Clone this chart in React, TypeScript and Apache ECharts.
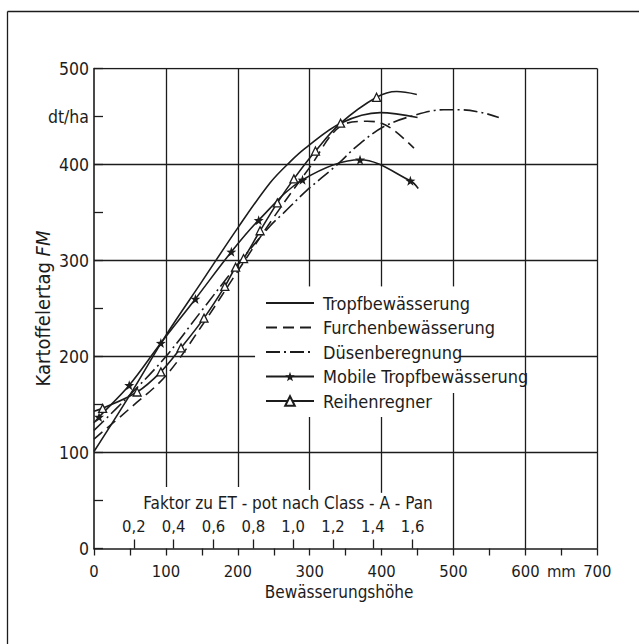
import React, { useEffect, useRef } from "react";
import * as echarts from "echarts";

const FONT = "'DejaVu Sans Condensed', 'Liberation Sans Narrow', 'Liberation Sans', sans-serif";
const INK = "#1c1c1c";

// Axis ranges (mm of irrigation, dt/ha yield)
const X_MAX = 700;
const Y_MAX = 500;
const MM_PER_FACTOR = 277;
const factorTicks = [0.2, 0.4, 0.6, 0.8, 1.0, 1.2, 1.4, 1.6];

// Series names
const seriesNames = [
  "Tropfbewässerung",
  "Furchenbewässerung",
  "Düsenberegnung",
  "Mobile Tropfbewässerung",
  "Reihenregner",
];

// Tropfbewässerung (solid)
const tropfX = [0, 50, 100, 150, 200, 245, 273, 294, 343, 398, 450];
const tropfY = [101, 160, 222, 278, 334, 381, 403, 417, 443, 454, 449];

// Furchenbewässerung (dashed)
const furchenX = [0, 50, 100, 150, 200, 250, 300, 343, 380, 400, 420, 445];
const furchenY = [114, 146, 180, 232, 289, 345, 397, 440, 445, 443, 434, 417];

// Düsenberegnung (dash-dot)
const duesenX = [0, 50, 100, 150, 200, 245, 263, 296, 337, 367, 402, 440, 486, 510, 540, 563];
const duesenY = [123, 160, 200, 248, 296, 336, 349, 373, 399, 420, 439, 450, 457, 457, 454, 449];

// Mobile Tropfbewässerung (stars)
const mobilX = [0, 7, 49, 93, 141, 191, 229, 290, 370, 440, 451];
const mobilY = [131, 137, 170, 214, 260, 309, 342, 384, 405, 383, 375];
const mobilMarked = [0, 1, 1, 1, 1, 1, 1, 1, 1, 1, 0];

// Reihenregner (triangles)
const reihenX = [0, 12, 60, 93, 121, 153, 182, 197, 208, 231, 255, 278, 308, 343, 393, 421, 449];
const reihenY = [143, 146, 163, 184, 209, 240, 273, 293, 302, 331, 360, 385, 414, 443, 470, 476, 473];
const reihenMarked = [0, 1, 1, 1, 1, 1, 1, 1, 1, 1, 1, 1, 1, 1, 1, 0, 0];

// Grid line segments (data units), interrupted where texts sit
const gridSegments = [
  [[100, 500], [100, 64]],
  [[200, 500], [200, 64]],
  [[300, 500], [300, 273]],
  [[300, 137], [300, 61]],
  [[400, 500], [400, 273]],
  [[400, 137], [400, 58]],
  [[500, 500], [500, 273]],
  [[500, 162], [500, 0]],
  [[600, 500], [600, 0]],
  [[700, 500], [700, 0]],
  [[0, 500], [700, 500]],
  [[0, 400], [700, 400]],
  [[0, 300], [700, 300]],
  [[0, 200], [224, 200]],
  [[508, 200], [700, 200]],
  [[0, 100], [700, 100]],
];

const STAR =
  "path://M0,-10 L2.35,-3.24 L9.51,-3.09 L3.8,1.24 L5.88,8.09 L0,4 L-5.88,8.09 L-3.8,1.24 L-9.51,-3.09 L-2.35,-3.24 Z";

function pts(xs: number[], ys: number[], marked?: number[]) {
  return xs.map((x, i) =>
    marked && !marked[i] ? { value: [x, ys[i]], symbol: "none" } : [x, ys[i]]
  );
}

export default function App() {
  const ref = useRef<HTMLDivElement>(null);
  useEffect(() => {
    const chart = echarts.init(ref.current!, null, { renderer: "svg" });
    const lineBase = {
      type: "line",
      smooth: 0.35,
      z: 3,
    };
    const hidden = { color: "rgba(0,0,0,0)", borderWidth: 0 };
    const option: any = {
      animation: false,
      backgroundColor: "#ffffff",
      textStyle: { fontFamily: FONT, color: INK },
      grid: { left: 94, top: 68.5, width: 503.3, height: 480 },
      xAxis: [
        {
          type: "value",
          min: 0,
          max: X_MAX,
          interval: 50,
          position: "bottom",
          axisLine: { show: true, onZero: false, lineStyle: { color: INK, width: 1.6 } },
          axisTick: { show: true, inside: false, length: 7, lineStyle: { color: INK, width: 1.3 } },
          axisLabel: {
            color: INK,
            fontFamily: FONT,
            fontSize: 16.5,
            margin: 14,
            formatter: (v: number) => (v % 100 === 0 ? String(v) : v === 650 ? "mm" : ""),
          },
          splitLine: { show: false },
          name: "Bewässerungshöhe",
          nameLocation: "middle",
          nameGap: 35,
          nameMoveOverlap: false,
          nameTextStyle: { color: INK, fontFamily: FONT, fontSize: 17, padding: [0, 13, 0, 0] },
        },
        {
          type: "value",
          min: 0,
          max: X_MAX / MM_PER_FACTOR,
          position: "bottom",
          axisLine: { show: false },
          axisTick: {
            show: true,
            inside: true,
            length: 9,
            customValues: factorTicks,
            lineStyle: { color: INK, width: 1.3 },
          },
          axisLabel: {
            inside: true,
            margin: 14,
            color: INK,
            fontFamily: FONT,
            fontSize: 16.5,
            customValues: factorTicks,
            formatter: (v: number) => v.toFixed(1).replace(".", ","),
          },
          splitLine: { show: false },
        },
      ],
      yAxis: {
        type: "value",
        min: 0,
        max: Y_MAX,
        interval: 50,
        axisLine: { show: true, lineStyle: { color: INK, width: 1.6 } },
        axisTick: { show: true, inside: true, length: 9, lineStyle: { color: INK, width: 1.3 } },
        axisLabel: {
          color: INK,
          fontFamily: FONT,
          fontSize: 17.5,
          margin: 5,
          formatter: (v: number) => (v % 100 === 0 ? String(v) : v === 450 ? "dt/ha" : ""),
        },
        splitLine: { show: false },
        name: "{a|Kartoffelertag} {b|FM}",
        nameLocation: "middle",
        nameGap: 41,
        nameMoveOverlap: false,
        nameTextStyle: {
          color: INK,
          fontFamily: FONT,
          fontSize: 20,
          rich: {
            a: { fontFamily: FONT, fontSize: 20, color: INK },
            b: { fontFamily: FONT, fontSize: 20, color: INK, fontStyle: "italic" },
          },
        },
      },
      legend: {
        show: true,
        orient: "vertical",
        left: 265,
        top: 294,
        itemWidth: 48,
        itemHeight: 12,
        itemGap: 6.5,
        padding: 0,
        data: seriesNames,
        textStyle: { color: INK, fontFamily: FONT, fontSize: 18, lineHeight: 18, padding: [0, 0, 0, 4] },
      },
      graphic: [
        { type: "line", shape: { x1: 7.5, y1: 11.5, x2: 640, y2: 11.5 }, style: { stroke: INK, lineWidth: 1.3 } },
        { type: "line", shape: { x1: 7.5, y1: 11.5, x2: 7.5, y2: 645 }, style: { stroke: INK, lineWidth: 1.3 } },
        {
          type: "text",
          x: 288,
          y: 503,
          style: {
            text: "Faktor zu ET - pot nach Class - A - Pan",
            fontFamily: FONT,
            fontSize: 17,
            fill: INK,
            align: "center",
            verticalAlign: "middle",
          },
        },
      ],
      series: [
        {
          type: "lines",
          coordinateSystem: "cartesian2d",
          silent: true,
          z: 1,
          lineStyle: { color: INK, width: 1.3, opacity: 1 },
          data: gridSegments.map((s) => ({ coords: s })),
        },
        {
          ...lineBase,
          name: seriesNames[0],
          symbol: "none",
          showSymbol: false,
          lineStyle: { color: INK, width: 1.6, type: "solid" },
          itemStyle: hidden,
          data: pts(tropfX, tropfY),
        },
        {
          ...lineBase,
          name: seriesNames[1],
          symbol: "none",
          showSymbol: false,
          lineStyle: { color: INK, width: 1.6, type: [11, 6] },
          itemStyle: hidden,
          data: pts(furchenX, furchenY),
        },
        {
          ...lineBase,
          name: seriesNames[2],
          symbol: "none",
          showSymbol: false,
          lineStyle: { color: INK, width: 1.6, type: [14, 4, 2, 4] },
          itemStyle: hidden,
          data: pts(duesenX, duesenY),
        },
        {
          ...lineBase,
          name: seriesNames[3],
          symbol: STAR,
          symbolSize: 10,
          showSymbol: true,
          lineStyle: { color: INK, width: 1.6, type: "solid" },
          itemStyle: { color: INK, borderWidth: 0 },
          data: pts(mobilX, mobilY, mobilMarked),
        },
        {
          ...lineBase,
          name: seriesNames[4],
          symbol: "triangle",
          symbolSize: 8,
          showSymbol: true,
          lineStyle: { color: INK, width: 1.6, type: "solid" },
          itemStyle: { color: "#ffffff", borderColor: INK, borderWidth: 1.3 },
          data: pts(reihenX, reihenY, reihenMarked),
        },
      ],
    };
    chart.setOption(option);
    return () => chart.dispose();
  }, []);
  return (
    <div
      ref={ref}
      style={{ position: "fixed", left: 0, top: 0, width: 639, height: 644, background: "#fff" }}
    />
  );
}
